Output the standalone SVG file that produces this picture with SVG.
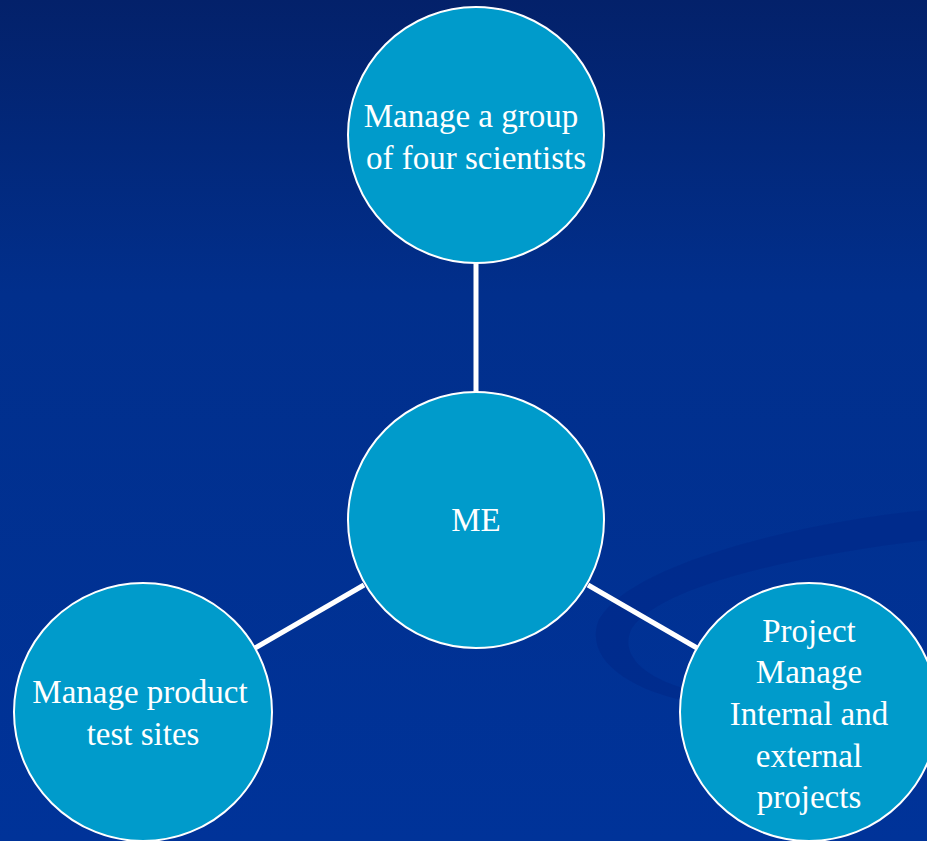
<svg xmlns="http://www.w3.org/2000/svg" width="927" height="841" viewBox="0 0 927 841">
<defs>
<linearGradient id="bg" x1="0" y1="0" x2="0" y2="1">
<stop offset="0" stop-color="#03216a"/>
<stop offset="0.35" stop-color="#012f8c"/>
<stop offset="1" stop-color="#003399"/>
</linearGradient>
<style>
.node{fill:#009bcb;stroke:#ffffff;stroke-width:2}
.lbl{font-family:"Liberation Serif","Times New Roman",serif;font-size:33px;fill:#ffffff;text-anchor:middle}
.conn{stroke:#ffffff;stroke-width:5;fill:none}
</style>
</defs>
<rect width="927" height="841" fill="url(#bg)"/>
<path d="M 927 510 C 800 522, 625 565, 598 622 C 585 660, 630 690, 690 702 L 690 690 C 645 678, 618 655, 632 628 C 662 585, 800 555, 927 540 Z" fill="#002a8a" opacity="0.7"/>
<g id="connectors">
<line class="conn" x1="476" y1="263" x2="476" y2="392"/>
<line class="conn" x1="364" y1="585" x2="255" y2="648"/>
<line class="conn" x1="588" y1="585" x2="697" y2="648"/>
</g>
<g id="node-top">
<circle class="node" cx="476" cy="135" r="128"/>
<text class="lbl" x="471" y="127">Manage a group</text>
<text class="lbl" x="476" y="169">of four scientists</text>
</g>
<g id="node-me">
<circle class="node" cx="476" cy="520" r="128"/>
<text class="lbl" x="476" y="531" font-size="30">ME</text>
</g>
<g id="node-left">
<circle class="node" cx="143" cy="712" r="129"/>
<text class="lbl" x="140" y="703">Manage product</text>
<text class="lbl" x="143" y="745">test sites</text>
</g>
<g id="node-right">
<circle class="node" cx="809" cy="712" r="129"/>
<text class="lbl" x="809" y="642">Project</text>
<text class="lbl" x="809" y="683">Manage</text>
<text class="lbl" x="809" y="725">Internal and</text>
<text class="lbl" x="809" y="767">external</text>
<text class="lbl" x="809" y="808">projects</text>
</g>
</svg>
